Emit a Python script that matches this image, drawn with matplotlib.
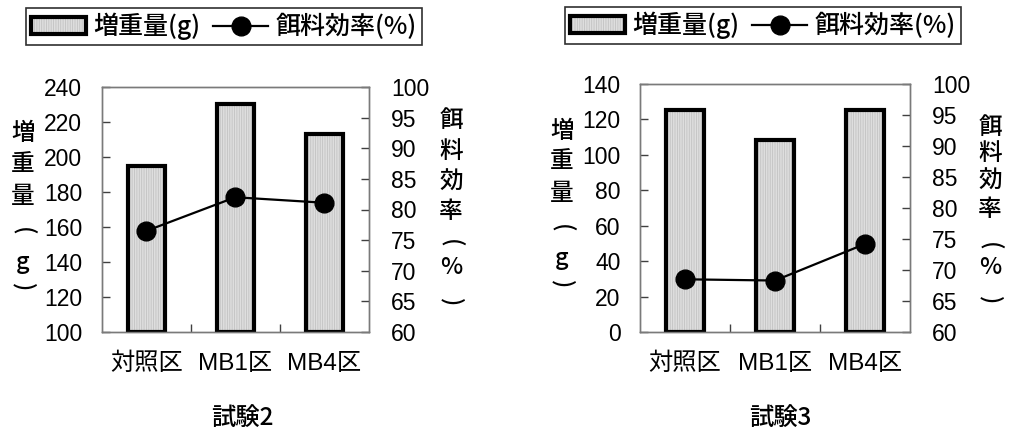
import matplotlib
matplotlib.use("Agg")
import matplotlib.pyplot as plt
import numpy as np
from matplotlib.patches import Patch
from matplotlib.lines import Line2D
from matplotlib.legend_handler import HandlerTuple

plt.rcParams['font.family'] = ['Liberation Sans', 'Noto Sans CJK JP']
plt.rcParams['hatch.linewidth'] = 0.6

categories = ['対照区', 'MB1区', 'MB4区']

# 試験2
gain_2 = [195, 230, 213]          # 増重量 (g)
eff_2 = [76.5, 82.0, 81.1]        # 餌料効率 (%)
# 試験3
gain_3 = [125.5, 108.5, 125.5]
eff_3 = [68.5, 68.3, 74.2]

gain_ticks_2 = [100, 120, 140, 160, 180, 200, 220, 240]
gain_ticks_3 = [0, 20, 40, 60, 80, 100, 120, 140]
eff_ticks = [60, 65, 70, 75, 80, 85, 90, 95, 100]

titles = ['試験2', '試験3']
gain_chars = ['増', '重', '量', '(', 'g', ')']
eff_chars = ['餌', '料', '効', '率', '(', '%', ')']
legend_labels = ['増重量(g)', '餌料効率(%)']

W, H = 1012, 438
fig = plt.figure(figsize=(W / 100, H / 100), dpi=100)

BAR_FILL = '#dedede'
HATCH_COL = '#c2c2c2'
SPINE_COL = '#7a7a7a'
FS = 16.5
CJK = 'Noto Sans CJK JP'


def px_rect(l, t, r, b):
    return [l / W, 1 - b / H, (r - l) / W, (b - t) / H]


def vertical_label(chars, x, ys):
    # stacked vertical caption; brackets turned to their vertical forms
    for ch, y in zip(chars, ys):
        rot = -90 if ch in '()' else 0
        fig.text(x / W, 1 - y / H, ch, fontsize=17, ha='center', va='center',
                 family=CJK, rotation=rot, fontweight='medium')


def draw_panel(rect, gains, effs, gticks, title, title_xy, glabel, elabel, leg_xy):
    ax = fig.add_axes(rect)
    x = np.arange(len(categories))
    base = gticks[0]
    g = np.array(gains)
    ax.bar(x, g - base, bottom=base, width=0.42, color=BAR_FILL,
           edgecolor=HATCH_COL, linewidth=0, hatch='|' * 7, zorder=2)
    ax.bar(x, g - base, bottom=base, width=0.42, fill=False,
           edgecolor='black', linewidth=3, zorder=3)
    ax.set_xlim(-0.5, len(categories) - 0.5)
    ax.set_ylim(gticks[0], gticks[-1])
    ax.set_yticks(gticks)
    ax.set_xticks(x)
    ax.set_xticklabels(categories, fontsize=17.5)
    ax.set_xticks(np.arange(len(categories) - 1) + 0.5, minor=True)
    ax.tick_params(axis='x', which='major', length=0, pad=15)
    ax.tick_params(axis='x', which='minor', direction='in', length=5.5,
                   width=1, color='#404040')
    ax.tick_params(axis='y', direction='in', length=6, width=1,
                   color='#404040', labelsize=FS, pad=14)
    for s in ax.spines.values():
        s.set_color(SPINE_COL)
        s.set_linewidth(1)

    ax2 = ax.twinx()
    ax2.plot(x, effs, color='black', linewidth=1.6, marker='o',
             markersize=13.5, zorder=4)
    ax2.set_ylim(eff_ticks[0], eff_ticks[-1])
    ax2.set_yticks(eff_ticks)
    ax2.tick_params(axis='y', direction='in', length=6, width=1,
                    color='#404040', labelsize=FS, pad=16)
    for s in ax2.spines.values():
        s.set_color(SPINE_COL)
        s.set_linewidth(1)

    fig.text(title_xy[0] / W, 1 - title_xy[1] / H, title, fontsize=17.5,
             ha='center', va='center', family=CJK, fontweight='medium')
    vertical_label(gain_chars, *glabel)
    vertical_label(eff_chars, *elabel)

    bar_handle = (Patch(facecolor=BAR_FILL, edgecolor=HATCH_COL, linewidth=0, hatch='|' * 7),
                  Patch(fill=False, edgecolor='black', linewidth=3))
    line_handle = Line2D([], [], color='black', linewidth=1.6, marker='o', markersize=13.5)
    leg = fig.legend([bar_handle, line_handle], legend_labels,
                     handler_map={tuple: HandlerTuple(ndivide=1)},
                     loc='upper left', bbox_to_anchor=(leg_xy[0] / W, 1 - leg_xy[1] / H),
                     bbox_transform=fig.transFigure, ncols=2,
                     prop={'family': CJK, 'size': 18, 'weight': 'medium'},
                     handlelength=2.2, handleheight=0.7, handletextpad=0.3,
                     columnspacing=0.5, borderpad=0.2, borderaxespad=0,
                     fancybox=False, framealpha=1, edgecolor='#303030')
    leg.get_frame().set_linewidth(1.2)
    return ax, ax2


draw_panel(px_rect(101.7, 87, 369, 332), gain_2, eff_2, gain_ticks_2, titles[0],
           (242, 418),
           (23, [134, 165, 197, 231, 262, 287]),
           (451, [120, 151, 182, 211, 243, 267, 302]),
           (26, 8))
draw_panel(px_rect(640, 84, 910, 332), gain_3, eff_3, gain_ticks_3, titles[1],
           (780, 418),
           (562, [131, 162, 194, 228, 259, 284]),
           (990, [127, 153, 181, 209, 246, 268, 300]),
           (565, 7))

fig.savefig('out.png', dpi=100)
